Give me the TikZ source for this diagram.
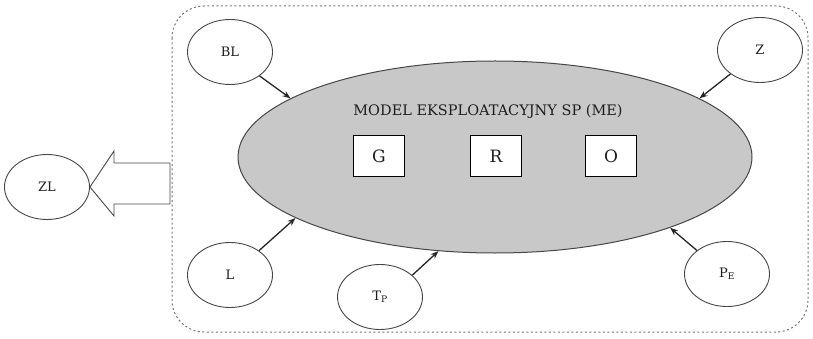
\documentclass[tikz,border=0pt]{standalone}
\usepackage{fontspec}
\setmainfont{DejaVu Serif}
\usetikzlibrary{shapes.geometric,arrows.meta}
\definecolor{lineg}{RGB}{70,70,70}
\definecolor{fillg}{RGB}{200,200,200}
\definecolor{txt}{RGB}{30,30,30}
\tikzset{
  factor/.style={ellipse,draw=lineg,line width=0.9pt,minimum width=85pt,minimum height=65pt,inner sep=0pt,text=txt,font=\fontsize{13}{15}\selectfont},
  modelbox/.style={draw=black,line width=0.9pt,fill=white,minimum width=51pt,minimum height=41pt,inner sep=0pt,text=txt,font=\fontsize{17}{19}\selectfont},
  infl/.style={-{Stealth[length=8pt,width=6pt]},line width=1.3pt,draw=black!85},
  border/.style={draw=black!55,line width=1pt,dash pattern=on 2pt off 2.5pt,rounded corners=32pt}
}
\begin{document}
\begin{tikzpicture}[x=1pt,y=-1pt]
\useasboundingbox (0,0) rectangle (813,339);
\draw[border] (172,6) rectangle (808,332);
\node[ellipse,draw=lineg,line width=1pt,fill=fillg,minimum width=514pt,minimum height=192pt,inner sep=0pt] (ME) at (495,157) {};
\node[text=txt,font=\fontsize{14.5}{16}\selectfont] (title) at (488,112) {MODEL EKSPLOATACYJNY SP (ME)};
\node[modelbox] (G) at (379,156) {G};
\node[modelbox] (R) at (496,156) {R};
\node[modelbox] (O) at (611,156) {O};
\node[factor] (BL) at (230,52) {BL};
\node[factor] (Z) at (760,50) {Z};
\node[factor] (L) at (230,275) {L};
\node[factor] (TP) at (380,297) {T\textsubscript{P}};
\node[factor] (PE) at (727,274) {P\textsubscript{E}};
\node[factor] (ZL) at (47,187) {ZL};
\draw[infl] (BL.-39) -- (ME.164);
\draw[infl] (Z.-141) -- (ME.16.6);
\draw[infl] (L.40) -- (ME.197.4);
\draw[infl] (TP.34) -- (ME.239.4);
\draw[infl] (PE.142) -- (ME.-22);
\draw[draw=lineg,line width=0.9pt] (ZL.east) -- (114,151) -- (114,163) -- (170,163) -- (170,204) -- (114,204) -- (114,216) -- cycle;
\end{tikzpicture}
\end{document}
